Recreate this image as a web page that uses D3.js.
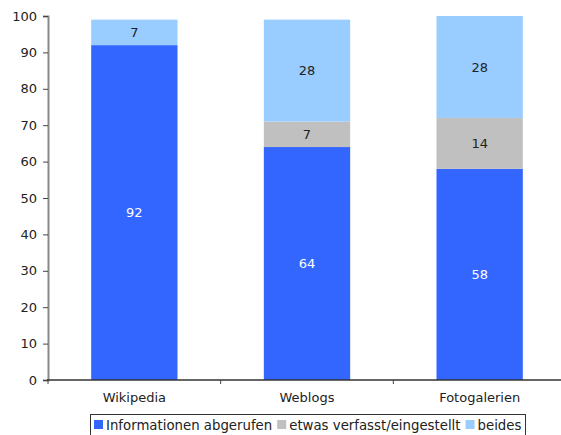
<!DOCTYPE html>
<html><head><meta charset="utf-8">
<script src="https://cdn.jsdelivr.net/npm/d3@7"></script>
<style>body{margin:0;background:#fff}svg{display:block;font-family:"DejaVu Sans",Verdana,sans-serif}</style>
</head><body><svg id="c" width="561" height="435"></svg>
<script>
const categories = ["Wikipedia", "Weblogs", "Fotogalerien"];
const seriesNames = ["Informationen abgerufen", "etwas verfasst/eingestellt", "beides"];
const informationen = [92, 64, 58];
const verfasst = [0, 7, 14];
const beides = [7, 28, 28];
const yTicks = [0, 10, 20, 30, 40, 50, 60, 70, 80, 90, 100];
const colors = ["#3366ff", "#c0c0c0", "#99ccff"];
const labelColors = ["#ffffff", "#222222", "#222222"];

(function () {
const svg = d3.select("#c");
const pLeft = 48, pRight = 566, pTop = 16, pBottom = 380;
const fs = 13;
const x = d3.scaleBand().domain(categories).range([pLeft, pRight]).paddingInner(0.5).paddingOuter(0.25);
const y = d3.scaleLinear().domain([0, 100]).range([pBottom, pTop]);

const rows = categories.map((c, i) => ({cat: c, s0: informationen[i], s1: verfasst[i], s2: beides[i]}));
const stack = d3.stack().keys(["s0", "s1", "s2"])(rows);

stack.forEach((layer, k) => {
  const g = svg.append("g");
  layer.forEach(d => {
    const v = d[1] - d[0];
    if (v <= 0) return;
    g.append("rect").attr("x", x(d.data.cat)).attr("width", x.bandwidth())
      .attr("y", y(d[1])).attr("height", y(d[0]) - y(d[1])).attr("fill", colors[k]);
    g.append("text").attr("x", x(d.data.cat) + x.bandwidth() / 2).attr("y", (y(d[0]) + y(d[1])) / 2)
      .attr("dy", "0.35em").attr("text-anchor", "middle").attr("font-size", fs)
      .attr("fill", labelColors[k]).text(v);
  });
});

const ya = svg.append("g").attr("transform", `translate(${pLeft},0)`)
  .call(d3.axisLeft(y).tickValues(yTicks).tickSize(5).tickPadding(6));
ya.select(".domain").attr("stroke", "#888").attr("stroke-width", 2);
ya.selectAll(".tick line").attr("stroke", "#444");
ya.selectAll("text").attr("font-size", fs).attr("fill", "#222").attr("font-family", "DejaVu Sans, Verdana, sans-serif");

const xa = svg.append("g").attr("transform", `translate(0,${pBottom})`);
xa.append("line").attr("x1", pLeft - 1).attr("x2", 561).attr("y1", 0).attr("y2", 0).attr("stroke", "#333").attr("stroke-width", 1.5);
const step = x.step();
[0, 1, 2, 3].forEach(i => {
  const tx = pLeft + i * step;
  xa.append("line").attr("x1", tx).attr("x2", tx).attr("y1", 0).attr("y2", 4).attr("stroke", "#444");
});
categories.forEach(c => {
  xa.append("text").attr("x", x(c) + x.bandwidth() / 2).attr("y", 22).attr("text-anchor", "middle")
    .attr("font-size", fs).attr("fill", "#222").text(c);
});

const lg = svg.append("g");
lg.append("rect").attr("x", 90.5).attr("y", 414.5).attr("width", 435).attr("height", 30)
  .attr("fill", "#fff").attr("stroke", "#333").attr("stroke-width", 1);
let lx = 94;
seriesNames.forEach((n, k) => {
  lg.append("rect").attr("x", lx).attr("y", 420).attr("width", 9).attr("height", 9).attr("fill", colors[k]);
  const t = lg.append("text").attr("x", lx + 12).attr("y", 430).attr("font-size", 13.3).attr("fill", "#222").text(n);
  lx += 12 + t.node().getComputedTextLength() + 5;
});
})();
</script></body></html>
